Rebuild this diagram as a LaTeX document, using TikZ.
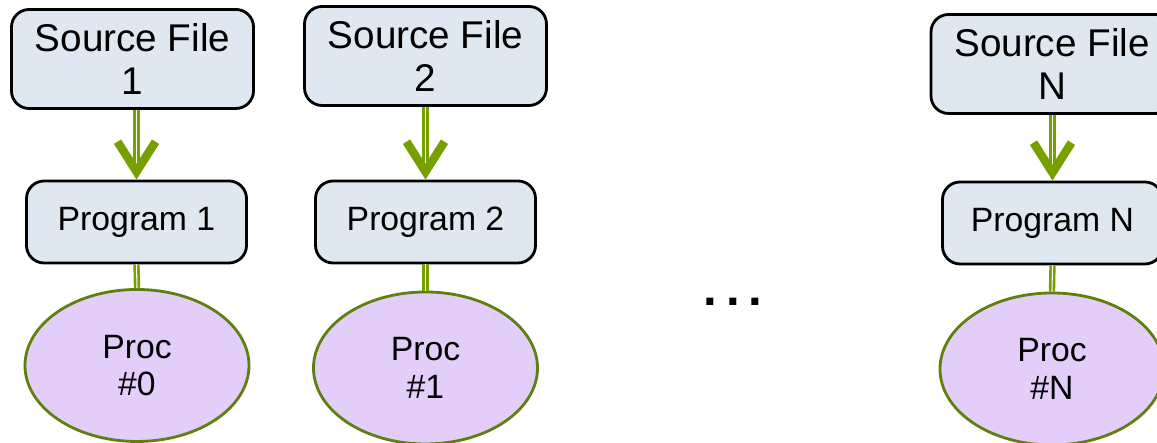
\documentclass[tikz,border=0pt]{standalone}
\usepackage{fontspec}
\setmainfont{Liberation Sans}
\usetikzlibrary{arrows.meta,shapes.geometric}

\definecolor{boxfill}{HTML}{DFE8F1}
\definecolor{procfill}{HTML}{E2CEF8}
\definecolor{procline}{HTML}{5F8010}
\definecolor{flowgreen}{HTML}{76A000}

\tikzset{
  srcbox/.style={draw, line width=0.8pt, rounded corners=5pt, fill=boxfill,
    minimum width=2.42cm, minimum height=0.99cm, align=center,
    font=\fontsize{11}{12.4}\selectfont, inner sep=0pt},
  progbox/.style={draw, line width=0.8pt, rounded corners=5pt, fill=boxfill,
    minimum width=2.2cm, minimum height=0.82cm,
    font=\fontsize{9.6}{11}\selectfont, inner sep=0pt},
  proc/.style={ellipse, draw=procline, line width=0.8pt, fill=procfill,
    minimum width=2.24cm, minimum height=1.52cm, align=center,
    font=\fontsize{9.6}{10.6}\selectfont, inner sep=0pt},
  flow/.style={flowgreen, line width=0.75pt, double=white, double distance=0.3pt},
  flowtip/.style={-{Straight Barb[length=3mm, width=3.8mm, line width=2.4pt]}}
}

\begin{document}
\begin{tikzpicture}
  \clip (0,0) rectangle (11.57,4.43);

  % column 1
  \node[srcbox] (src1) at (1.325,3.84) {Source File\\1};
  \node[progbox] (prog1) at (1.365,2.21) {Program 1};
  \node[proc] (proc1) at (1.37,0.775) {Proc\\\#0};

  % column 2
  \node[srcbox] (src2) at (4.255,3.87) {Source File\\2};
  \node[progbox] (prog2) at (4.255,2.21) {Program 2};
  \node[proc] (proc2) at (4.255,0.75) {Proc\\\#1};

  % column N
  \node[srcbox] (srcN) at (10.52,3.79) {Source File\\N};
  \node[progbox] (progN) at (10.525,2.2) {Program N};
  \node[proc] (procN) at (10.52,0.74) {Proc\\\#N};

  \node[font=\bfseries\fontsize{14}{14}\selectfont] (dots) at (7.33,1.41) {.\hspace{0.9mm}.\hspace{0.9mm}.};

  \draw[flow, flowtip] (src1.south -| prog1.north) -- (prog1.north);
  \draw[flow, flowtip] (src2.south -| prog2.north) -- (prog2.north);
  \draw[flow, flowtip] (srcN.south -| progN.north) -- (progN.north);

  \draw[flow] (prog1.south) -- (proc1.north);
  \draw[flow] (prog2.south) -- (proc2.north);
  \draw[flow] (progN.south) -- (procN.north);
\end{tikzpicture}
\end{document}
